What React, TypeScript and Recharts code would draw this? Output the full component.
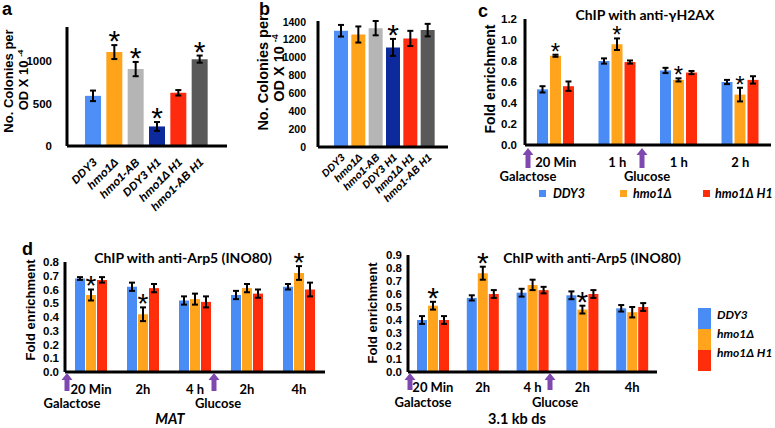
import { BarChart, Bar, XAxis, YAxis, ErrorBar, Cell, LabelList } from 'recharts';

// panel a / b: colony counts per strain
const strains = ['DDY3', 'hmo1Δ', 'hmo1-AB', 'DDY3 H1', 'hmo1Δ H1', 'hmo1-AB H1'];
const strainColors = ['#4d8ff6', '#ffa31a', '#b5b5b5', '#0c2a9c', '#ff2b0f', '#595959'];

const coloniesA = [590, 1105, 905, 230, 626, 1022];
const coloniesAErr = [62, 82, 84, 52, 32, 42];
const coloniesASig = [false, true, true, true, false, true];
const ticksA = [0, 500, 1000];

const coloniesB = [1300, 1258, 1329, 1114, 1214, 1307];
const coloniesBErr = [65, 90, 80, 95, 85, 70];
const coloniesBSig = [false, false, false, true, false, false];
const ticksB = [0, 200, 400, 600, 800, 1000, 1200, 1400];

// panel c: ChIP anti-gH2AX
const timesC = ['20 Min', '1 h', '1 h', '2 h'];
const h2axDDY3 = [0.53, 0.8, 0.71, 0.6];
const h2axDDY3Err = [0.03, 0.025, 0.025, 0.02];
const h2axHmo1 = [0.85, 0.96, 0.62, 0.48];
const h2axHmo1Err = [0.01, 0.055, 0.015, 0.065];
const h2axHmo1Sig = [true, true, true, true];
const h2axHmo1H1 = [0.56, 0.79, 0.69, 0.62];
const h2axHmo1H1Err = [0.045, 0.015, 0.015, 0.035];
const ticksC = [0, 0.2, 0.4, 0.6, 0.8, 1.0, 1.2];

// panel d: ChIP anti-Arp5 at MAT and 3.1 kb ds
const timesD = ['20 Min', '2h', '4 h', '2h', '4h'];
const matDDY3 = [0.68, 0.62, 0.52, 0.56, 0.62];
const matDDY3Err = [0.01, 0.03, 0.03, 0.03, 0.02];
const matHmo1 = [0.56, 0.42, 0.53, 0.61, 0.72];
const matHmo1Err = [0.04, 0.05, 0.04, 0.03, 0.05];
const matHmo1Sig = [true, true, false, false, true];
const matHmo1H1 = [0.67, 0.61, 0.51, 0.57, 0.6];
const matHmo1H1Err = [0.02, 0.03, 0.04, 0.03, 0.05];
const ticksMat = [0, 0.1, 0.2, 0.3, 0.4, 0.5, 0.6, 0.7, 0.8];

const dsDDY3 = [0.4, 0.57, 0.61, 0.59, 0.49];
const dsDDY3Err = [0.03, 0.02, 0.03, 0.03, 0.025];
const dsHmo1 = [0.51, 0.76, 0.67, 0.48, 0.46];
const dsHmo1Err = [0.03, 0.05, 0.04, 0.03, 0.04];
const dsHmo1Sig = [true, true, false, true, false];
const dsHmo1H1 = [0.4, 0.6, 0.63, 0.6, 0.5];
const dsHmo1H1Err = [0.03, 0.03, 0.025, 0.03, 0.03];
const ticksDs = [0, 0.1, 0.2, 0.3, 0.4, 0.5, 0.6, 0.7, 0.8, 0.9];

const BLUE = '#4a8cf5';
const ORANGE = '#ffa41c';
const RED = '#ff2d0a';
const PURPLE = '#7e48b0';
const ARIAL = '"Liberation Sans", Arial, sans-serif';
const CALIBRI = 'Lato, "Open Sans", sans-serif';

const strainTable = (vals: number[], errs: number[], sig: boolean[]) =>
  strains.map((name, i) => ({ name, value: vals[i], err: errs[i], star: sig[i] ? errs[i] : null }));

const groupTable = (
  names: string[],
  a: number[], aErr: number[],
  b: number[], bErr: number[], bSig: boolean[],
  c: number[], cErr: number[],
) =>
  names.map((name, i) => ({
    name,
    ddy3: a[i], ddy3Err: aErr[i],
    hmo1: b[i], hmo1Err: bErr[i], hmo1Star: bSig[i] ? bErr[i] : null,
    hmo1h1: c[i], hmo1h1Err: cErr[i],
  }));

const tableA = strainTable(coloniesA, coloniesAErr, coloniesASig);
const tableB = strainTable(coloniesB, coloniesBErr, coloniesBSig);
const tableC = groupTable(timesC, h2axDDY3, h2axDDY3Err, h2axHmo1, h2axHmo1Err, h2axHmo1Sig, h2axHmo1H1, h2axHmo1H1Err);
const tableMat = groupTable(timesD, matDDY3, matDDY3Err, matHmo1, matHmo1Err, matHmo1Sig, matHmo1H1, matHmo1H1Err);
const tableDs = groupTable(timesD, dsDDY3, dsDDY3Err, dsHmo1, dsHmo1Err, dsHmo1Sig, dsHmo1H1, dsHmo1H1Err);

type Frame = { x0: number; x1: number; y0: number; y1: number; max: number };
const frameA: Frame = { x0: 67, x1: 227, y0: 27, y1: 146, max: 1400 };
const frameB: Frame = { x0: 318, x1: 448, y0: 21, y1: 147, max: 1400 };
const frameC: Frame = { x0: 525, x1: 771, y0: 19, y1: 145, max: 1.2 };
const frameMat: Frame = { x0: 65, x1: 325, y0: 262, y1: 372, max: 0.8 };
const frameDs: Frame = { x0: 408, x1: 657, y0: 255, y1: 372, max: 0.9 };

const YW = 50;
const XH = 75;
const TOP = 40;
const axisLine = { stroke: '#000', strokeWidth: 3 };

// asterisk above the error bar; value = error size (null when not significant)
const starLabel = (f: Frame, size: number) => (props: any) => {
  const { x, y, width, value } = props;
  if (typeof value !== 'number') return null;
  const ppu = (f.y1 - f.y0) / f.max;
  const top = Number(y) - value * ppu;
  return (
    <text x={Number(x) + Number(width) / 2} y={top - size * 0.37 + size * 0.57}
      textAnchor="middle" fontSize={size} fontFamily={ARIAL} fill="#000">*</text>
  );
};

const rotatedTick = (dy: number, size: number) => (props: any) => {
  const { x, y, payload } = props;
  return (
    <text transform={`translate(${x + 5},${y + dy}) rotate(-45)`} textAnchor="end"
      fontSize={size} fontWeight={700} fontStyle="italic" fontFamily={ARIAL} fill="#000">
      {payload.value}
    </text>
  );
};

const timeTick = (dy: number) => (props: any) => {
  const { x, y, payload } = props;
  return (
    <text x={x} y={y + dy} textAnchor="middle" fontSize={13} fontWeight={700}
      fontFamily={CALIBRI} fill="#000">{payload.value}</text>
  );
};

function Frame({ f, children }: { f: Frame; children: (w: number, h: number) => any }) {
  const w = f.x1 - f.x0 + YW + 4;
  const h = f.y1 - f.y0 + TOP + XH;
  return (
    <div style={{ position: 'absolute', left: f.x0 - YW, top: f.y0 - TOP, width: w, height: h }}>
      {children(w, h)}
    </div>
  );
}

function StrainChart({ f, data, ticks, gap, barSize, pad, starSize, tickSize, labelDy, labelSize }: any) {
  return (
    <Frame f={f}>
      {(w, h) => (
        <BarChart width={w} height={h} data={data} margin={{ top: TOP, right: 4, left: 0, bottom: 0 }}>
          <XAxis dataKey="name" height={XH} interval={0} tickLine={false} tickSize={0} tickMargin={0}
            axisLine={axisLine} tick={rotatedTick(labelDy, labelSize)} padding={pad} />
          <YAxis width={YW} domain={[0, f.max]} ticks={ticks} interval={0} tickLine={false}
            tickSize={0} tickMargin={gap} axisLine={axisLine}
            tick={{ fill: '#000', fontSize: tickSize, fontWeight: 700, fontFamily: ARIAL }} />
          <Bar dataKey="value" barSize={barSize} isAnimationActive={false}>
            {data.map((_: any, i: number) => <Cell key={i} fill={strainColors[i]} />)}
            <ErrorBar dataKey="err" width={3} strokeWidth={2} stroke="#000" />
            <LabelList dataKey="star" content={starLabel(f, starSize)} />
          </Bar>
        </BarChart>
      )}
    </Frame>
  );
}

function GroupChart({ f, data, ticks, gap, barSize, barGap, tickDy, starSize }: any) {
  return (
    <Frame f={f}>
      {(w, h) => (
        <BarChart width={w} height={h} data={data} barGap={barGap}
          margin={{ top: TOP, right: 4, left: 0, bottom: 0 }}>
          <XAxis dataKey="name" height={XH} interval={0} tickLine={false} tickSize={0} tickMargin={0}
            axisLine={axisLine} tick={timeTick(tickDy)} />
          <YAxis width={YW} domain={[0, f.max]} ticks={ticks} interval={0} tickLine={false}
            tickSize={0} tickMargin={gap} axisLine={axisLine} tickFormatter={(v: number) => v.toFixed(1)}
            tick={{ fill: '#000', fontSize: 11.5, fontWeight: 700, fontFamily: ARIAL }} />
          <Bar dataKey="ddy3" fill={BLUE} barSize={barSize} isAnimationActive={false}>
            <ErrorBar dataKey="ddy3Err" width={3} strokeWidth={2} stroke="#000" />
          </Bar>
          <Bar dataKey="hmo1" fill={ORANGE} barSize={barSize} isAnimationActive={false}>
            <ErrorBar dataKey="hmo1Err" width={3} strokeWidth={2} stroke="#000" />
            <LabelList dataKey="hmo1Star" content={starLabel(f, starSize)} />
          </Bar>
          <Bar dataKey="hmo1h1" fill={RED} barSize={barSize} isAnimationActive={false}>
            <ErrorBar dataKey="hmo1h1Err" width={3} strokeWidth={2} stroke="#000" />
          </Bar>
        </BarChart>
      )}
    </Frame>
  );
}

const Arrow = ({ cx, top, bottom }: { cx: number; top: number; bottom: number }) => (
  <path fill={PURPLE}
    d={`M${cx},${top} L${cx + 5.5},${top + 7} L${cx + 2.5},${top + 7} L${cx + 2.5},${bottom} L${cx - 2.5},${bottom} L${cx - 2.5},${top + 7} L${cx - 5.5},${top + 7} Z`} />
);

const VLabel = ({ cx, cy, size, children }: any) => (
  <text transform={`translate(${cx + size * 0.36},${cy}) rotate(-90)`} textAnchor="middle"
    fontSize={size} fontWeight={700} fontFamily={ARIAL} fill="#000">{children}</text>
);

const T = ({ x, y, size = 13, anchor = 'middle', italic = false, font = CALIBRI, children }: any) => (
  <text x={x} y={y} fontSize={size} textAnchor={anchor} fontWeight={700}
    fontStyle={italic ? 'italic' : 'normal'} fontFamily={font} fill="#000">{children}</text>
);

export default function App() {
  return (
    <div style={{ position: 'absolute', left: 0, top: 0, width: 775, height: 428, background: '#fff', overflow: 'hidden' }}>
      <StrainChart f={frameA} data={tableA} ticks={ticksA} gap={15} barSize={16} pad={{ left: 15, right: 17 }}
        starSize={30} tickSize={11.5} labelDy={17} labelSize={11.5} />
      <StrainChart f={frameB} data={tableB} ticks={ticksB} gap={12} barSize={14} pad={{ left: 14, right: 12 }}
        starSize={30} tickSize={10.5} labelDy={11} labelSize={10.5} />
      <GroupChart f={frameC} data={tableC} ticks={ticksC} gap={8} barSize={11} barGap={2} tickDy={22} starSize={24} />
      <GroupChart f={frameMat} data={tableMat} ticks={ticksMat} gap={6} barSize={10} barGap={1} tickDy={22} starSize={28} />
      <GroupChart f={frameDs} data={tableDs} ticks={ticksDs} gap={6} barSize={10} barGap={1} tickDy={20} starSize={30} />

      <svg width={775} height={428} style={{ position: 'absolute', left: 0, top: 0, pointerEvents: 'none' }}>
        {/* panel letters */}
        <T x={2} y={15} size={18} anchor="start" font={ARIAL}>a</T>
        <T x={259} y={15} size={18} anchor="start" font={ARIAL}>b</T>
        <T x={478} y={17} size={18} anchor="start" font={ARIAL}>c</T>
        <T x={22} y={255} size={18} anchor="start" font={ARIAL}>d</T>

        {/* y axis titles */}
        <VLabel cx={8} cy={81} size={13}>No. Colonies per</VLabel>
        <VLabel cx={23} cy={80} size={13}>OD X 10 <tspan fontSize={8} dy={-5}>-4</tspan></VLabel>
        <VLabel cx={263} cy={73} size={14.5}>No. Colonies per</VLabel>
        <VLabel cx={279} cy={68} size={14.5}>OD X 10 <tspan fontSize={9} dy={-6}>-4</tspan></VLabel>
        <VLabel cx={490} cy={79} size={14}>Fold enrichment</VLabel>
        <VLabel cx={30} cy={310} size={13}>Fold enrichment</VLabel>
        <VLabel cx={372} cy={313} size={13}>Fold enrichment</VLabel>

        {/* titles */}
        <T x={645} y={20} size={14}>ChIP with anti-γH2AX</T>
        <T x={183} y={263} size={14}>ChIP with anti-Arp5 (INO80)</T>
        <T x={592} y={263} size={14}>ChIP with anti-Arp5 (INO80)</T>

        {/* media shift arrows */}
        <Arrow cx={528} top={148} bottom={168} />
        <Arrow cx={642} top={148} bottom={168} />
        <Arrow cx={67} top={373} bottom={391} />
        <Arrow cx={214} top={373} bottom={391} />
        <Arrow cx={410} top={373} bottom={390} />
        <Arrow cx={550} top={373} bottom={390} />
        <T x={528} y={181}>Galactose</T>
        <T x={647} y={181}>Glucose</T>
        <T x={72} y={408}>Galactose</T>
        <T x={218} y={408}>Glucose</T>
        <T x={423} y={407}>Galactose</T>
        <T x={555} y={407}>Glucose</T>
        <T x={170} y={424} size={14.5} italic>MAT</T>
        <T x={517} y={424} size={14.5}>3.1 kb ds</T>

        {/* legend c */}
        <rect x={539} y={190} width={7} height={7} fill={BLUE} />
        <T x={553} y={198} size={12.5} anchor="start" italic>DDY3</T>
        <rect x={620} y={190} width={7} height={7} fill={ORANGE} />
        <T x={633} y={198} size={12.5} anchor="start" italic>hmo1Δ</T>
        <rect x={703} y={190} width={7} height={7} fill={RED} />
        <T x={715} y={198} size={12.5} anchor="start" italic>hmo1Δ H1</T>

        {/* legend d */}
        <rect x={698} y={308} width={13} height={21} fill={BLUE} />
        <rect x={698} y={329} width={13} height={21} fill={ORANGE} />
        <rect x={698} y={350} width={13} height={21} fill={RED} />
        <T x={717} y={319} size={12} anchor="start" italic>DDY3</T>
        <T x={717} y={338} size={12} anchor="start" italic>hmo1Δ</T>
        <T x={717} y={357} size={12} anchor="start" italic>hmo1Δ H1</T>
      </svg>
    </div>
  );
}
